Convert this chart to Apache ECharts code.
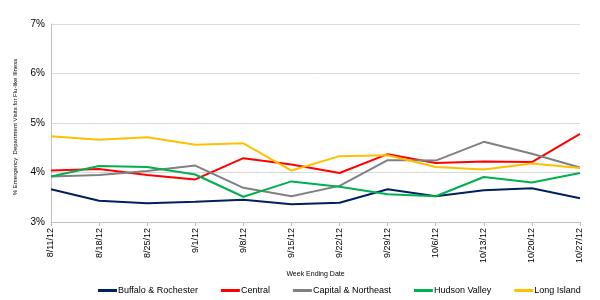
<!DOCTYPE html>
<html>
<head>
<meta charset="utf-8">
<script src="https://cdn.jsdelivr.net/npm/echarts@6/dist/echarts.min.js"></script>
<style>
html, body { margin: 0; padding: 0; background: #fff; }
#chart { width: 600px; height: 300px; }
</style>
</head>
<body>
<div id="chart"></div>
<script>
// week ending dates
var weeks = ['8/11/12', '8/18/12', '8/25/12', '9/1/12', '9/8/12', '9/15/12',
    '9/22/12', '9/29/12', '10/6/12', '10/13/12', '10/20/12', '10/27/12'];
// % ED visits for ILI by region
var buffaloRochester = [3.66, 3.43, 3.38, 3.41, 3.45, 3.36, 3.39, 3.66, 3.52, 3.64, 3.68, 3.48];
var central = [4.04, 4.07, 3.95, 3.86, 4.29, 4.16, 3.99, 4.37, 4.19, 4.22, 4.21, 4.78];
var capitalNortheast = [3.92, 3.95, 4.03, 4.14, 3.69, 3.52, 3.73, 4.25, 4.24, 4.62, 4.38, 4.10];
var hudsonValley = [3.92, 4.13, 4.11, 3.96, 3.51, 3.82, 3.71, 3.56, 3.52, 3.91, 3.80, 3.99];
var longIsland = [4.73, 4.66, 4.71, 4.56, 4.59, 4.04, 4.33, 4.35, 4.11, 4.06, 4.18, 4.09];

var font = '"Liberation Sans", Arial, sans-serif';

function line(name, data, color) {
    return {
        name: name,
        type: 'line',
        data: data,
        symbol: 'none',
        smooth: false,
        lineStyle: { color: color, width: 2 },
        itemStyle: { color: color }
    };
}

var chart = echarts.init(document.getElementById('chart'));
var option = {
    animation: false,
    textStyle: { fontFamily: font },
    grid: { left: 51, right: 20, top: 24, bottom: 78 },
    legend: {
        top: 281,
        left: 93,
        itemWidth: 19,
        itemHeight: 3,
        itemGap: 23,
        icon: 'rect',
        textStyle: { fontFamily: font, fontSize: 9, color: '#000', padding: [0, 0, 0, -4] },
        data: ['Buffalo & Rochester', 'Central', 'Capital & Northeast', 'Hudson Valley', 'Long Island']
    },
    xAxis: {
        type: 'category',
        data: weeks,
        boundaryGap: false,
        name: 'Week Ending Date',
        nameLocation: 'middle',
        nameGap: 42,
        nameTextStyle: { fontFamily: font, fontSize: 7, color: '#000' },
        axisLine: { lineStyle: { color: '#bfbfbf' } },
        axisTick: { show: true, length: 4, lineStyle: { color: '#bfbfbf' } },
        axisLabel: { rotate: 90, fontSize: 9, color: '#000', margin: 6, fontFamily: font }
    },
    yAxis: {
        type: 'value',
        min: 3,
        max: 7,
        interval: 1,
        name: '% Emergency  Department Visits for Flu-like Illness',
        nameLocation: 'middle',
        nameGap: 33,
        nameTextStyle: { fontFamily: font, fontSize: 6, color: '#000', padding: [0, 8, 0, 0] },
        axisLine: { show: true, lineStyle: { color: '#bfbfbf' } },
        axisTick: { show: false },
        splitLine: { lineStyle: { color: '#d9d9d9' } },
        axisLabel: {
            fontSize: 10, color: '#000', margin: 6, fontFamily: font,
            formatter: function (v) { return v + '%'; }
        }
    },
    series: [
        line('Buffalo & Rochester', buffaloRochester, '#002060'),
        line('Central', central, '#ff0000'),
        line('Capital & Northeast', capitalNortheast, '#808080'),
        line('Hudson Valley', hudsonValley, '#00b050'),
        line('Long Island', longIsland, '#ffc000')
    ]
};
chart.setOption(option);
</script>
</body>
</html>
